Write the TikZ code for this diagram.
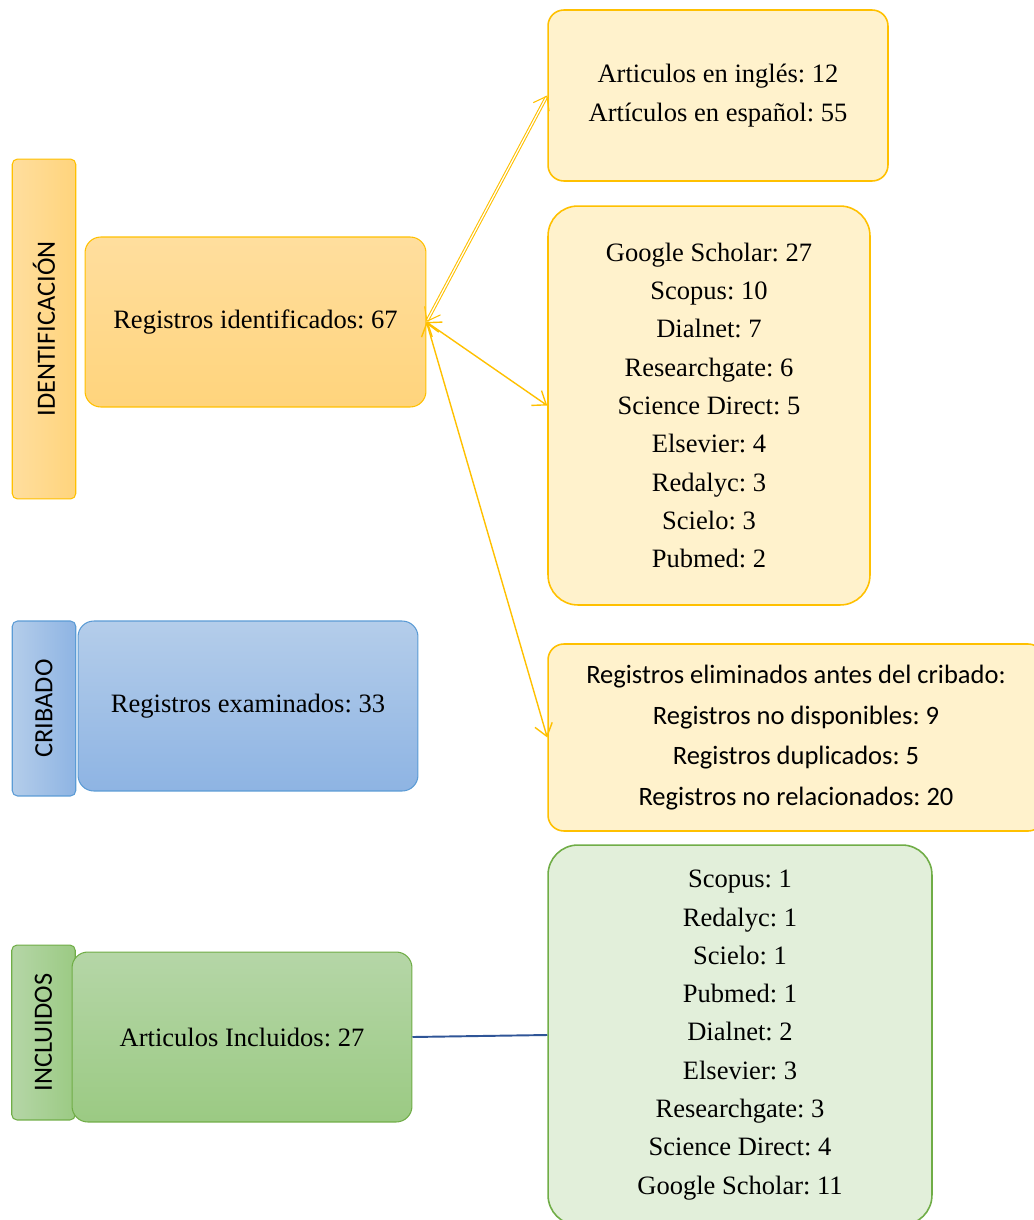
\documentclass[tikz,border=0pt]{standalone}
\usepackage{fontspec}
\setmainfont{Liberation Serif}
\newfontfamily\calibrifont{Carlito}
\usepackage{tikz}
\usetikzlibrary{arrows.meta}
\frenchspacing
\definecolor{goldline}{HTML}{FFC000}
\definecolor{goldfill}{HTML}{FFF2CC}
\definecolor{goldtop}{HTML}{FFDE9E}
\definecolor{goldbot}{HTML}{FFD47C}
\definecolor{blueline}{HTML}{5B9BD5}
\definecolor{bluetop}{HTML}{B4CDEA}
\definecolor{bluebot}{HTML}{8EB4E3}
\definecolor{greenline}{HTML}{70AD47}
\definecolor{greenfill}{HTML}{E2EFDA}
\definecolor{greentop}{HTML}{B5D6A7}
\definecolor{greenbot}{HTML}{9BCA83}
\definecolor{linkblue}{HTML}{2F5597}
\tikzstyle{stagebox} = [
  rectangle, rounded corners=3pt, line width=0.6pt, rotate=90,
  minimum height=1.27cm, inner sep=0pt,
  font=\calibrifont\fontsize{15}{18}\selectfont
]
\tikzstyle{mainbox} = [
  rectangle, rounded corners=9pt, line width=0.6pt,
  minimum width=6.8cm, minimum height=3.4cm, inner sep=0pt,
  font=\fontsize{15.1}{18}\selectfont
]
\tikzstyle{listbox} = [
  rectangle, rounded corners=9pt, line width=0.9pt, draw=goldline,
  fill=goldfill, align=center, inner sep=0pt,
  font=\fontsize{15.1}{21.8}\selectfont
]
\tikzstyle{arrowstyle} = [
  {Straight Barb[length=2.4mm,width=3.6mm]}-{Straight Barb[length=2.4mm,width=3.6mm]},
  goldline, line width=0.8pt
]

\begin{document}
\begin{tikzpicture}[x=0.02cm, y=-0.02cm]
\useasboundingbox (0,0) rectangle (1034,1220);
\clip (0,0) rectangle (1034,1220);

% --- Stage labels ---
\node[stagebox, draw=goldline, left color=goldtop, right color=goldbot,
      minimum width=6.8cm] (idlabel) at (44,329) {IDENTIFICACIÓN};
\node[stagebox, draw=blueline, left color=bluetop, right color=bluebot,
      minimum width=3.5cm] (crlabel) at (44,708.5) {CRIBADO};
\node[stagebox, draw=greenline, left color=greentop, right color=greenbot,
      minimum width=3.5cm] (inlabel) at (43.5,1032.5) {INCLUIDOS};

% --- Main boxes ---
\node[mainbox, draw=goldline, top color=goldtop, bottom color=goldbot,
      minimum width=6.82cm] (idmain) at (255.5,322) {Registros identificados: 67};
\node[mainbox, draw=blueline, top color=bluetop, bottom color=bluebot]
      (crmain) at (248,706) {Registros examinados: 33};
\node[mainbox, draw=greenline, top color=greentop, bottom color=greenbot]
      (inmain) at (242,1037) {Articulos Incluidos: 27};

% --- Detail boxes ---
\node[listbox, minimum width=6.8cm, minimum height=3.42cm] (langbox) at (718,95.5)
  {Articulos en inglés: 12\\Artículos en español: 55};
\node[listbox, rounded corners=17pt, minimum width=6.44cm, minimum height=7.98cm]
  (dbbox) at (709,405.5)
  {Google Scholar: 27\\Scopus: 10\\Dialnet: 7\\Researchgate: 6\\Science Direct: 5\\
   Elsevier: 4\\Redalyc: 3\\Scielo: 3\\Pubmed: 2};
\node[listbox, minimum width=9.92cm, minimum height=3.74cm,
      font=\calibrifont\fontsize{15.1}{23.1}\selectfont] (elimbox) at (796,737.5)
  {Registros eliminados antes del cribado:\\Registros no disponibles: 9\\
   Registros duplicados: 5\\Registros no relacionados: 20};
\node[listbox, rounded corners=17pt, draw=greenline, fill=greenfill,
      minimum width=7.68cm, minimum height=7.6cm] (inclbox) at (740,1035)
  {Scopus: 1\\Redalyc: 1\\Scielo: 1\\Pubmed: 1\\Dialnet: 2\\Elsevier: 3\\
   Researchgate: 3\\Science Direct: 4\\Google Scholar: 11};

% --- Connectors ---
\draw[arrowstyle, double, double distance=0.7pt, line width=0.6pt] (idmain.east) -- (langbox.west);
\draw[arrowstyle] (idmain.east) -- (dbbox.west);
\draw[arrowstyle] (idmain.east) -- (elimbox.west);
\draw[linkblue, line width=1.1pt] (inmain.east) -- (inclbox.west);

\end{tikzpicture}
\end{document}
